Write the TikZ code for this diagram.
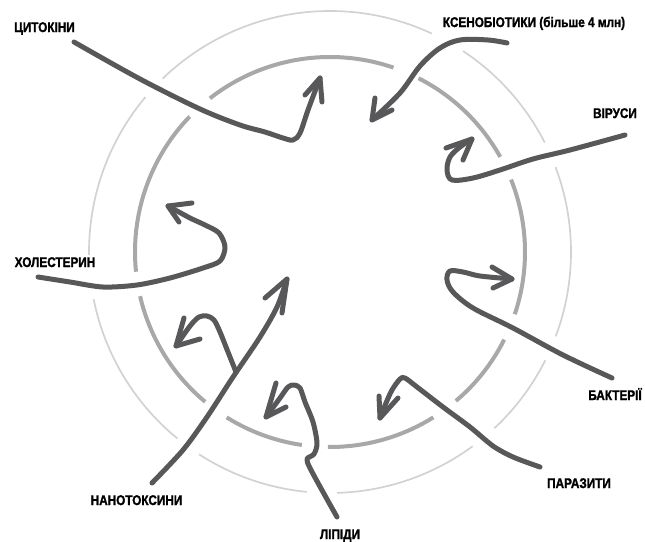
\documentclass[tikz,border=0pt]{standalone}
\usepackage{fontspec}
\newfontfamily\lblfont{Liberation Sans Bold}[FakeStretch=0.84, FakeBold=1.5]
\definecolor{arrc}{HTML}{58585A}
\definecolor{innc}{HTML}{A7A8AA}
\definecolor{outc}{HTML}{D1D2D3}
\tikzset{
  arr/.style={draw=arrc, line width=5pt, line cap=round, line join=round},
  outring/.style={draw=outc, line width=1.7pt},
  inring/.style={draw=innc, line width=4pt},
  lbl/.style={font=\lblfont\fontsize{14}{16}\selectfont, text=black, inner sep=0pt, anchor=base},
}
\newcommand{\ringarc}[4]{\draw[#1] (330,252) ++(-#2:#4) arc[start angle=-#2, end angle=-#3, radius=#4];}
\begin{document}
\begin{tikzpicture}[x=1pt, y=-1pt]
\useasboundingbox (0,0) rectangle (645,541);
% outer ring
\ringarc{outring}{-20.5}{20.6}{241}
\ringarc{outring}{27}{56.5}{241}
\ringarc{outring}{65}{134}{241}
\ringarc{outring}{140}{180.7}{241}
\ringarc{outring}{191.3}{230.7}{241}
\ringarc{outring}{237.1}{264.5}{241}
\ringarc{outring}{271.7}{306.3}{241}
\ringarc{outring}{313}{333.3}{241}
% inner ring
\ringarc{inring}{-18.6}{21.8}{195}
\ringarc{inring}{29.2}{63}{195}
\ringarc{inring}{71}{128}{195}
\ringarc{inring}{136}{185.8}{195}
\ringarc{inring}{193.1}{230.2}{195}
\ringarc{inring}{238}{261.7}{195}
\ringarc{inring}{269.4}{302}{195}
\ringarc{inring}{310.2}{333.3}{195}
% labels
\node[lbl] (cyt) at (44.5,32) {ЦИТОКІНИ};
\node[lbl] (xen) at (534,27) {КСЕНОБІОТИКИ (більше 4 млн)};
\node[lbl] (vir) at (615,118) {ВІРУСИ};
\node[lbl] (bac) at (615,400) {БАКТЕРІЇ};
\node[lbl] (par) at (579,488) {ПАРАЗИТИ};
\node[lbl] (lip) at (340,539) {ЛІПІДИ};
\node[lbl] (nan) at (136.5,505) {НАНОТОКСИНИ};
\node[lbl] (cho) at (55,267) {ХОЛЕСТЕРИН};
% Цитокіни
\draw[arr] plot[smooth, tension=0.55] coordinates {(74,42) (140,79) (200,109) (240,125) (265,132) (283,138) (293,140) (300,133) (308,110) (320,78)};
\draw[arr] (305,95) -- (320,78) -- (322,102);
% Ксенобіотики
\draw[arr] plot[smooth, tension=0.55] coordinates {(507,43) (488,40) (460,40) (440,48) (420,66) (400,93) (372,120)};
\draw[arr] (375,98) -- (372,120) -- (392,110);
% Віруси
\draw[arr] plot[smooth, tension=0.55] coordinates {(625,135) (570,150) (533,159) (500,170) (473,178) (452,180) (447,170) (450,157) (460,147) (472,139)};
\draw[arr] (446,148) -- (472,139) -- (463,160);
% Бактерії
\draw[arr] plot[smooth, tension=0.55] coordinates {(612,378) (563,355) (513,328) (473,308) (453,292) (447,280) (450,271) (463,272) (480,276) (512,279)};
\draw[arr] (492,267) -- (512,279) -- (493,288);
% Паразити
\draw[arr] plot[smooth, tension=0.5] coordinates {(540,467) (513,457) (493,446) (470,427) (443,407) (417,387) (405,378) (400,379) (392,390) (386,403) (380,418)};
\draw[arr] (379,396) -- (380,418) -- (398,398);
% Ліпіди
\draw[arr] plot[smooth, tension=0.5] coordinates {(337,517) (323,492) (310,468) (307,459) (314,454) (317,443) (313,422) (305,402) (300,388) (294,385) (288,387) (280,398) (266,417)};
\draw[arr] (276,383) -- (266,417) -- (286,407);
% Нанотоксини
\draw[arr] plot[smooth, tension=0.5] coordinates {(152,483) (183,450) (207,417) (233,377) (260,337) (277,307) (287,279)};
\draw[arr] (265,298) -- (287,279) -- (282,313);
\draw[arr] plot[smooth, tension=0.5] coordinates {(236,372) (228,352) (220,332) (214,320) (207,316) (199,317) (190,326) (176,346)};
\draw[arr] (184,318) -- (176,346) -- (200,339);
% Холестерин
\draw[arr] plot[smooth, tension=0.5] coordinates {(38,277) (70,282) (103,287) (137,285) (170,278) (203,268) (220,261) (225,247) (219,233) (205,225) (190,218) (168,206)};
\draw[arr] (192,203) -- (168,206) -- (179,222);
\end{tikzpicture}
\end{document}
